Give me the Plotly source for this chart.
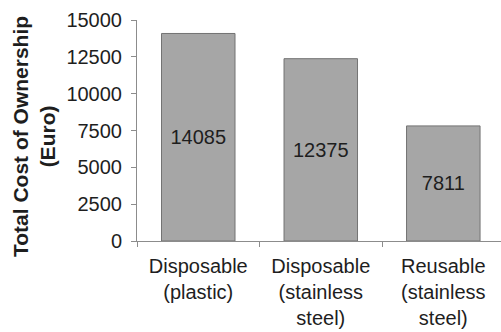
import plotly.graph_objects as go

categories = ["Disposable<br>(plastic)", "Disposable<br>(stainless<br>steel)", "Reusable<br>(stainless<br>steel)"]
costs = [14085, 12375, 7811]
y_ticks = [0, 2500, 5000, 7500, 10000, 12500, 15000]

FONT = "Liberation Sans, Arial, sans-serif"
AXIS_GREY = "#8c8c8c"
TEXT = "#1e1e1e"

fig = go.Figure(
    go.Bar(
        x=categories,
        y=costs,
        text=[str(v) for v in costs],
        textposition="inside",
        insidetextanchor="middle",
        textangle=0,
        textfont=dict(family=FONT, size=20, color=TEXT),
        marker=dict(color="#a6a6a6", line=dict(color="#737373", width=1)),
        width=0.6,
        hoverinfo="skip",
    )
)

fig.update_layout(
    width=501,
    height=332,
    margin=dict(l=137, r=0, t=20, b=91),
    paper_bgcolor="white",
    plot_bgcolor="white",
    showlegend=False,
    font=dict(family=FONT, size=20, color=TEXT),
    annotations=[
        dict(
            text="<b>Total Cost of Ownership<br>(Euro)</b>",
            textangle=-90,
            xref="paper", yref="paper",
            x=-0.283, y=0.475,
            xanchor="center", yanchor="middle",
            showarrow=False,
            font=dict(family=FONT, size=21, color=TEXT),
        )
    ],
)

fig.update_xaxes(
    range=[-0.5, 2.471],
    showline=True, linecolor=AXIS_GREY, linewidth=1,
    ticks="outside", tickson="boundaries", ticklen=5, tickcolor=AXIS_GREY,
    ticklabelstandoff=7,
    tickfont=dict(family=FONT, size=20, color=TEXT),
    showgrid=False, zeroline=False,
)
fig.update_yaxes(
    range=[0, 15000],
    tickvals=y_ticks,
    ticktext=[str(v) for v in y_ticks],
    showline=True, linecolor=AXIS_GREY, linewidth=1,
    ticks="outside", ticklen=5, tickcolor=AXIS_GREY,
    ticklabelstandoff=5,
    tickfont=dict(family=FONT, size=20, color=TEXT),
    showgrid=False, zeroline=False,
)

fig.write_html("out.html")
